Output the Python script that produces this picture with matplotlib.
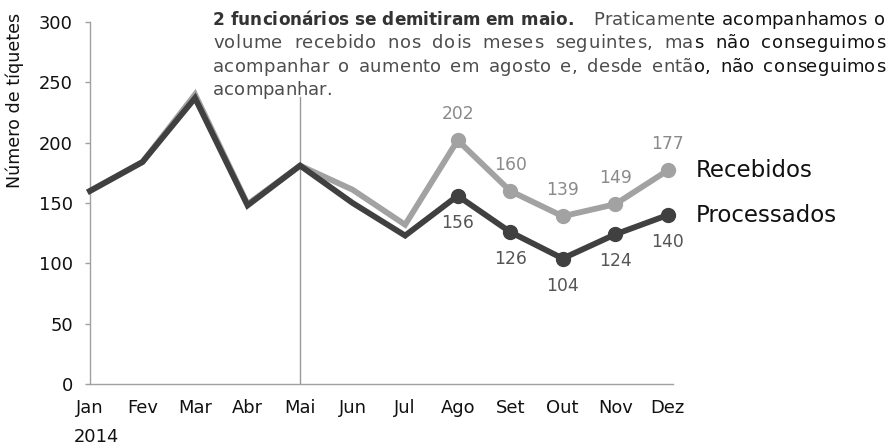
import matplotlib
matplotlib.use("Agg")
import matplotlib.pyplot as plt
from matplotlib.font_manager import FontProperties, findfont, get_font

# ---- data -------------------------------------------------------------
meses = ["Jan", "Fev", "Mar", "Abr", "Mai", "Jun",
         "Jul", "Ago", "Set", "Out", "Nov", "Dez"]
recebidos = [160, 184, 240, 149, 181, 161, 132, 202, 160, 139, 149, 177]
processados = [160, 184, 237, 148, 181, 150, 123, 156, 126, 104, 124, 140]
destaque = list(range(7, 12))      # Ago..Dez: markers + value labels
mes_saida = 4                      # Mai
ano = "2014"

titulo_negrito = "2 funcionários se demitiram em maio."
texto_linhas = [
    "Praticamente acompanhamos o",
    "volume recebido nos dois meses seguintes, mas não conseguimos",
    "acompanhar o aumento em agosto e, desde então, não conseguimos",
    "acompanhar.",
]
# trailing parts that come out darker in the original
sufixos_escuros = ["te acompanhamos o", "s não conseguimos", "o, não conseguimos", ""]

COR_REC = "#a2a2a2"
COR_PROC = "#404040"
COR_EIXO = "#a0a0a0"
W, H = 891, 447

fig = plt.figure(figsize=(W / 100, H / 100), dpi=100)
ax = fig.add_axes([90 / W, 63 / H, 583 / W, 362 / H])

x = list(range(len(meses)))
ax.plot(x, recebidos, color=COR_REC, lw=4.2, marker="o", ms=10,
        markevery=destaque, solid_joinstyle="miter", clip_on=False, zorder=3)
ax.plot(x, processados, color=COR_PROC, lw=4.2, marker="o", ms=10,
        markevery=destaque, solid_joinstyle="miter", clip_on=False, zorder=4)

for i in destaque:
    ax.annotate(str(recebidos[i]), (i, recebidos[i]), xytext=(0, 19),
                textcoords="offset points", ha="center", va="center",
                fontsize=12.3, color="#8a8a8a")
    ax.annotate(str(processados[i]), (i, processados[i]), xytext=(0, -19.5),
                textcoords="offset points", ha="center", va="center",
                fontsize=12.3, color="#555555")

ax.annotate("Recebidos", (11, recebidos[-1]), xytext=(20, 0),
            textcoords="offset points", va="center", fontsize=16.5,
            color="#111111", annotation_clip=False)
ax.annotate("Processados", (11, processados[-1]), xytext=(20, 0),
            textcoords="offset points", va="center", fontsize=16.5,
            color="#111111", annotation_clip=False)

ax.axvline(mes_saida, ymin=0, ymax=0.793, color="#999999", lw=1, zorder=2)

ax.set_xlim(0, 11.1)
ax.set_ylim(0, 300)
ax.set_xticks(x)
ax.set_xticklabels(meses)
ax.set_yticks(range(0, 301, 50))
ax.tick_params(axis="x", length=0, pad=11, labelsize=12.9, labelcolor="#111111")
ax.tick_params(axis="y", length=3.6, width=1, color=COR_EIXO, pad=8.6,
               labelsize=12.9, labelcolor="#111111")
for s in ("top", "right"):
    ax.spines[s].set_visible(False)
for s in ("left", "bottom"):
    ax.spines[s].set_color(COR_EIXO)
    ax.spines[s].set_linewidth(1)

fig.text(15 / W, 1 - 100 / H, "Número de tíquetes", rotation=90,
         ha="center", va="center", fontsize=12.6, color="#111111")
fig.text(74 / W, 1 - 437 / H, ano, ha="left", va="center",
         fontsize=12.9, color="#111111")


# ---- justified annotation, placed char by char ---------------------------
def advances(text, weight, size):
    font = get_font(findfont(FontProperties(family="DejaVu Sans", weight=weight)))
    font.set_size(size, 100)
    return [font.load_char(ord(c)).linearHoriAdvance / 65536 for c in text]


def draw_line(text, x0, x1, baseline, weight="normal", color="#4d4d4d",
              size=13.0, justify=True, sufixo=""):
    adv = advances(text, weight, size)
    gaps = [1 + 10 * (c == " ") for c in text[:-1]] + [0]
    step = ((x1 - x0) - sum(adv)) / sum(gaps) if justify else 0
    corte = len(text) - len(sufixo) if sufixo else len(text)
    xp = x0
    for k, (c, a, g) in enumerate(zip(text, adv, gaps)):
        if c != " ":
            col = "#111111" if k >= corte else color
            fig.text(xp / W, 1 - baseline / H, c, ha="left", va="baseline",
                     fontsize=size, fontweight=weight, color=col)
        xp += a + g * step


baselines = [25, 48.3, 71.6, 95]
draw_line(titulo_negrito, 213, None, baselines[0], weight="bold",
          color="#333333", size=12.2, justify=False)
draw_line(texto_linhas[0], 593, 885, baselines[0], sufixo=sufixos_escuros[0])
draw_line(texto_linhas[1], 213, 885, baselines[1], sufixo=sufixos_escuros[1])
draw_line(texto_linhas[2], 213, 885, baselines[2], sufixo=sufixos_escuros[2])
draw_line(texto_linhas[3], 213, None, baselines[3], justify=False)

fig.savefig("out.png", dpi=100)
